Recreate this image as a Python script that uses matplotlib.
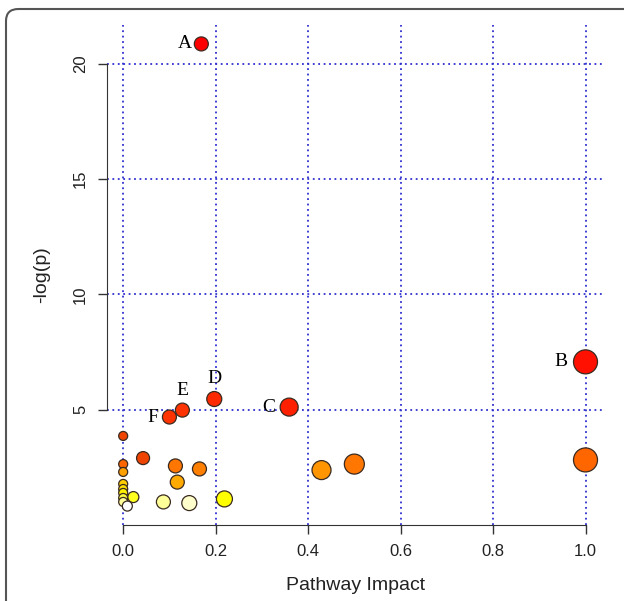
import numpy as np
import matplotlib
matplotlib.use("Agg")
import matplotlib.pyplot as plt
from matplotlib.patches import FancyBboxPatch

# Pathway impact vs -log(p)
impact = [0.169, 1.0, 0.359, 0.197, 0.128, 0.100,
          0.0, 0.043, 0.0, 0.0, 0.113, 0.165, 0.117, 0.429, 0.50, 1.0,
          0.0, 0.0, 0.0, 0.0, 0.022, 0.0, 0.009, 0.087, 0.143, 0.219]
neglogp = [20.85, 7.07, 5.11, 5.46, 4.98, 4.68,
           3.86, 2.90, 2.64, 2.30, 2.56, 2.43, 1.86, 2.38, 2.64, 2.82,
           1.78, 1.56, 1.39, 1.17, 1.21, 1.00, 0.82, 1.00, 0.95, 1.13]
labels = ["A", "B", "C", "D", "E", "F"]

# marker radius (pixels) and fill colour per point
radius_px = [7, 12, 9, 7.5, 7, 7,
             4.5, 6.5, 4.5, 4.5, 7, 7, 7, 9.5, 10, 12,
             4.5, 4.5, 4.5, 4.5, 5.5, 4.5, 5, 7, 7.5, 8]
colors = ["#ff0000", "#ff1000", "#ff2000", "#ff2a00", "#ff3300", "#ff3300",
          "#ee4400", "#ee4400", "#ff6600", "#ffa000", "#ff7700", "#ff7f00",
          "#ffaa00", "#ff9500", "#ff7700", "#ff6600",
          "#ffcc00", "#ffe000", "#fff000", "#ffff40", "#ffff20", "#ffff99",
          "#ffffff", "#ffff99", "#ffffcc", "#ffff00"]

# label offsets in points (dx, dy) relative to the marker
label_offsets = [(-12, 0), (-18, 0), (-15, 0), (0, 15), (0, 14), (-12, 0)]

dpi = 100
fig = plt.figure(figsize=(6.24, 6.01), dpi=dpi)
ax = fig.add_axes([107 / 624, 1 - 525 / 601, (604 - 107) / 624, (525 - 25) / 601])

px2pt = 72 / dpi
sizes = [(2 * r * px2pt) ** 2 for r in radius_px]

# dotted blue grid
for gx in [0, 0.2, 0.4, 0.6, 0.8, 1.0]:
    ax.axvline(gx, color="#3030d0", linestyle=(0, (1, 2)), lw=1.3, zorder=1)
for gy in [5, 10, 15, 20]:
    ax.axhline(gy, color="#3030d0", linestyle=(0, (1, 2)), lw=1.3, zorder=1)

ax.scatter(impact, neglogp, s=sizes, c=colors, edgecolors="#3a2a20",
           linewidths=0.9, zorder=3)

for i, lab in enumerate(labels):
    dx, dy = label_offsets[i]
    ax.annotate(lab, (impact[i], neglogp[i]), xytext=(dx, dy),
                textcoords="offset points", ha="center", va="center",
                fontsize=14, family="Liberation Serif", zorder=4)

ax.set_xlim(-0.035, 1.04)
ax.set_ylim(0.0, 21.67)

for side in ["top", "right"]:
    ax.spines[side].set_visible(False)
ax.spines["left"].set_bounds(5, 20)
ax.spines["bottom"].set_bounds(0, 1.0)
ax.spines["left"].set_color("#333333")
ax.spines["bottom"].set_color("#333333")

ax.set_xticks([0, 0.2, 0.4, 0.6, 0.8, 1.0])
ax.set_xticklabels(["0.0", "0.2", "0.4", "0.6", "0.8", "1.0"])
ax.set_yticks([5, 10, 15, 20])
ax.tick_params(direction="out", length=6.5, width=1, color="#333333",
               labelsize=12, labelcolor="#222222", pad=7)
for t in ax.get_yticklabels():
    t.set_rotation(90)
    t.set_va("center")
    t.set_family("Liberation Sans")
for t in ax.get_xticklabels():
    t.set_family("Liberation Sans")

ax.set_xlabel("Pathway Impact", fontsize=14, family="Liberation Sans",
              color="#222222", labelpad=13)
ax.set_ylabel("-log(p)", fontsize=14, family="Liberation Sans",
              color="#222222", labelpad=17)

# rounded frame around the panel (right and bottom run off the picture)
frame = FancyBboxPatch((6 / 624, -0.05), 1.05, 1 - 9 / 601 + 0.05,
                       boxstyle="round,pad=0,rounding_size=0.02",
                       transform=fig.transFigure, fill=False,
                       edgecolor="#555555", lw=1.5, clip_on=False)
fig.patches.append(frame)

fig.savefig("out.png", dpi=dpi)
